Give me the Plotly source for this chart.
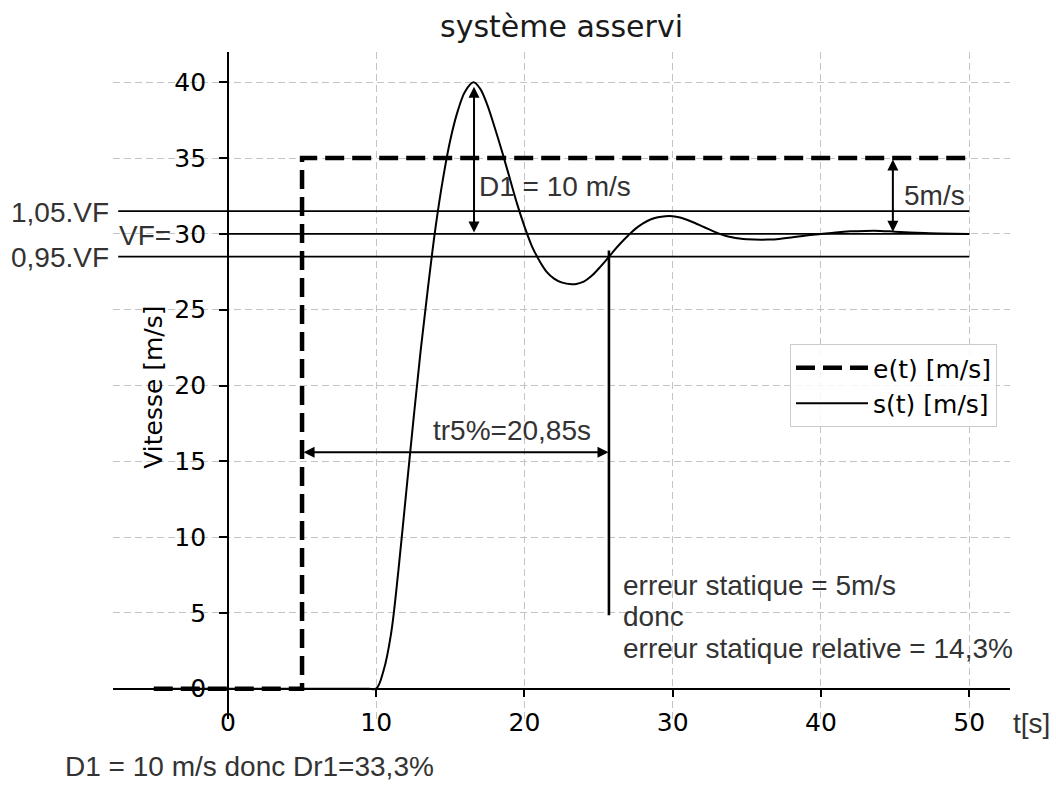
import plotly.graph_objects as go

# ---------------- data ----------------
e_t = [-5, 5, 5, 50]
e_v = [0, 0, 35, 35]

s_t = [-5, 5, 9.0, 9.5, 10.0, 10.5, 11.0, 11.5, 12.0, 12.5, 13.0, 13.5, 14.0, 14.5,
       15.0, 15.5, 16.0, 16.56, 17.0, 17.5, 18.0, 18.5, 19.0, 19.5, 20.0, 20.5, 21.0,
       21.5, 22.0, 22.5, 23.2, 23.5, 24.0, 24.5, 25.0, 25.5, 26.0, 26.5, 27.0, 27.5,
       28.0, 28.5, 29.0, 29.5, 30.0, 30.5, 31.0, 31.5, 32.0, 32.5, 33.0, 33.5, 34.0,
       34.5, 35.0, 36.0, 36.5, 37.0, 38.0, 39.0, 40.0, 41.0, 42.0, 43.0, 44.0, 45.0,
       46.0, 47.0, 48.0, 50.0]
s_v = [0, 0, 0, 0, 0, 1.2, 3.6, 7.8, 12.7, 17.6, 22.3, 26.5, 30.4, 33.6,
       36.2, 38.1, 39.4, 40.0, 39.6, 38.5, 37.0, 35.4, 33.7, 32.0, 30.5, 29.2, 28.25,
       27.5, 27.05, 26.8, 26.68, 26.7, 26.85, 27.2, 27.7, 28.25, 28.85, 29.4, 29.9, 30.35,
       30.7, 30.95, 31.1, 31.17, 31.17, 31.08, 30.92, 30.72, 30.5, 30.28, 30.07, 29.9, 29.78,
       29.7, 29.65, 29.62, 29.63, 29.65, 29.76, 29.9, 30.0, 30.1, 30.17, 30.2, 30.2, 30.15,
       30.1, 30.06, 30.03, 30.0]

VF = 30
band_levels = [31.5, 30.0, 28.5]
band_start = [-7.4, -0.6, -7.4]
band_end = [50, 50, 50]

tr_t = [25.7, 25.7]
tr_v = [28.9, 4.85]

x_ticks = [0, 10, 20, 30, 40, 50]
y_ticks = [0, 5, 10, 15, 20, 25, 30, 35, 40]
x_range = [-7.75, 52.75]
y_range = [-2, 42]

# ---------------- figure ----------------
fig = go.Figure()

fig.add_trace(go.Scatter(x=e_t, y=e_v, mode="lines", name="e(t) [m/s]",
                         line=dict(color="black", width=4.5, dash="19px,8px")))
fig.add_trace(go.Scatter(x=s_t, y=s_v, mode="lines", name="s(t) [m/s]",
                         line=dict(color="black", width=2, shape="spline", smoothing=1.0)))

for lvl, x0, x1 in zip(band_levels, band_start, band_end):
    fig.add_trace(go.Scatter(x=[x0, x1], y=[lvl, lvl], mode="lines", showlegend=False,
                             hoverinfo="skip", line=dict(color="black", width=1.8)))

fig.add_trace(go.Scatter(x=tr_t, y=tr_v, mode="lines", showlegend=False,
                         hoverinfo="skip", line=dict(color="black", width=2.6)))

ann_font = dict(family="Liberation Sans, Arial", size=28, color="#333333")
annotations = []


def xp(t):
    return (t - x_range[0]) / (x_range[1] - x_range[0])


def yp(v):
    return (v - y_range[0]) / (y_range[1] - y_range[0])


def arrow(x0, y0, x1, y1):
    return dict(x=x1, y=y1, ax=x0, ay=y0, xref="x", yref="y", axref="x", ayref="y",
                text="", showarrow=True, arrowhead=2, startarrowhead=2,
                arrowside="end+start", arrowwidth=2, arrowsize=1.1, arrowcolor="black")


annotations.append(arrow(16.6, 39.8, 16.6, 30.1))
annotations.append(arrow(5.0, 15.6, 25.67, 15.6))
annotations.append(arrow(44.85, 35.0, 44.85, 30.15))


def label(text, x, y, xanchor="left", yanchor="middle", font=None, **kw):
    # positions given in data units, placed through paper coordinates so that
    # labels outside the axis range are still drawn
    d = dict(text=text, x=xp(x), y=yp(y), xref="paper", yref="paper", xanchor=xanchor,
             yanchor=yanchor, showarrow=False, font=font or ann_font)
    d.update(kw)
    return d


annotations += [
    label("D1 = 10 m/s", 16.79, 33.1),
    label("5m/s", 45.45, 32.55),
    label("tr5%=20,85s", 13.7, 17.05),
    label("erreur statique = 5m/s", 26.5, 6.83),
    label("donc", 26.5, 4.74),
    label("erreur statique relative = 14,3%", 26.5, 2.65),
    label("t[s]", 52.8, -2.3),
    label("D1 = 10 m/s donc Dr1=33,3%", -11.1, -5.15),
    label("1,05.VF", -7.9, 31.42, xanchor="right"),
    label("0,95.VF", -7.9, 28.44, xanchor="right"),
    label("VF=", -7.45, 29.9),
    dict(text="Vitesse [m/s]", x=(153.3 - 113) / 897, y=(719 - 387.5) / 667,
         xref="paper", yref="paper", xanchor="center", yanchor="middle", showarrow=False,
         textangle=-90, font=dict(family="DejaVu Sans", size=25, color="black")),
]

axis_common = dict(showline=True, linecolor="black", linewidth=1.5, ticks="outside",
                   ticklen=8, tickwidth=1.5, tickcolor="black", showgrid=True,
                   gridcolor="#c4c4c4", griddash="7px,4px", gridwidth=1.2,
                   zeroline=False, tickfont=dict(family="DejaVu Sans", size=25, color="black"),
                   anchor="free")

fig.update_layout(
    width=1056, height=785,
    margin=dict(l=113, r=46, t=52, b=66),
    plot_bgcolor="white", paper_bgcolor="white",
    title=dict(text="système asservi", x=0.5, xref="paper", xanchor="center",
               y=1 - 26 / 785, yref="container", yanchor="middle",
               font=dict(family="DejaVu Sans", size=30, color="#1a1a1a")),
    xaxis=dict(range=x_range, tickvals=x_ticks, position=2 / 44,
               ticklabelstandoff=4, **axis_common),
    yaxis=dict(range=y_range, tickvals=y_ticks, position=7.75 / 60.5,
               ticklabelstandoff=8, **axis_common),
    legend=dict(x=(997 - 113) / 897, y=(719 - 344) / 667, xanchor="right", yanchor="top",
                bgcolor="rgba(255,255,255,0.85)", bordercolor="#cccccc", borderwidth=1,
                itemwidth=72,
                font=dict(family="DejaVu Sans", size=25, color="black")),
    annotations=annotations,
    showlegend=True,
)

fig.write_html("out.html")
